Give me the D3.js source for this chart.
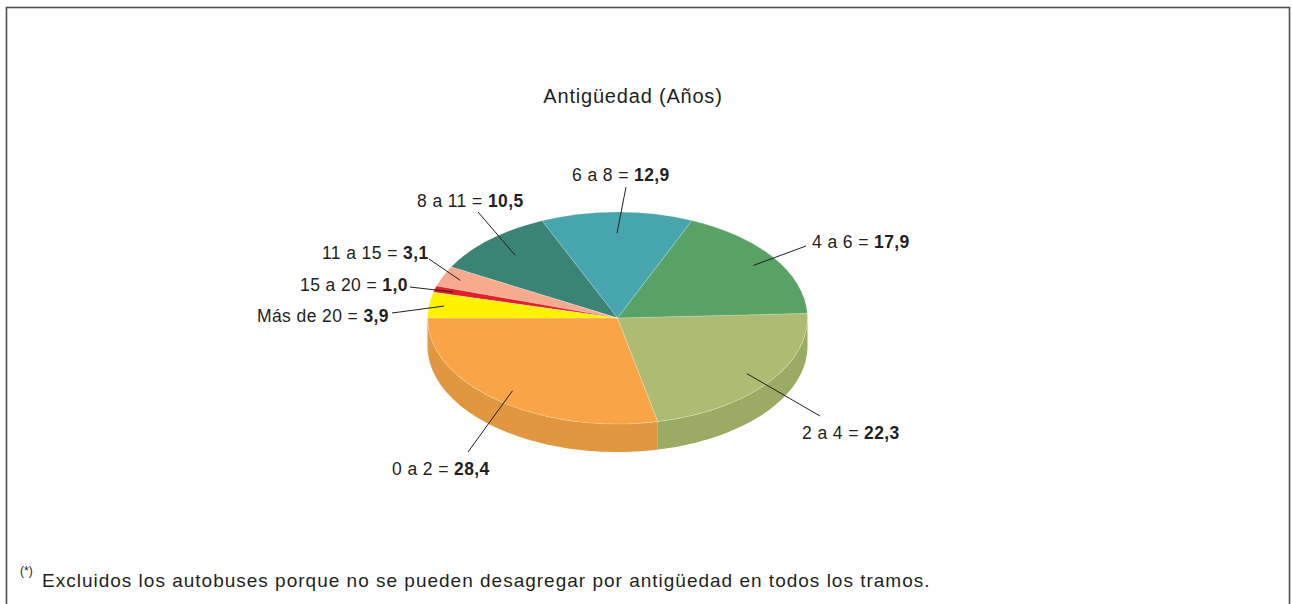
<!DOCTYPE html>
<html>
<head>
<meta charset="utf-8">
<script src="https://cdn.jsdelivr.net/npm/d3@7"></script>
<style>
  body { margin: 0; background: #fff; }
  svg text { font-family: "Liberation Sans", Arial, sans-serif; fill: #231f20; }
</style>
</head>
<body>
<div id="chart"></div>
<script>
// Data: share of vehicles by age bracket (years)
const categories = ["0 a 2", "2 a 4", "4 a 6", "6 a 8", "8 a 11", "11 a 15", "15 a 20", "Más de 20"];
const values = [28.4, 22.3, 17.9, 12.9, 10.5, 3.1, 1.0, 3.9];
const valueLabels = ["28,4", "22,3", "17,9", "12,9", "10,5", "3,1", "1,0", "3,9"];

const topColors = ["#f9a547", "#aebb72", "#58a265", "#46a5ad", "#3b8475", "#f8aa8e", "#e31f28", "#fff200"];
const sideColors = ["#e0973f", "#9bab63", "#4e9159", "#3e939a", "#347568", "#dd977e", "#c91b23", "#e3d700"];

// label layout: text start x, baseline y, leader outer end, leader inner radius fraction
const labelPos = [
  { x: 392, y: 475, lx: 468, ly: 452, f: 0.88 },
  { x: 802, y: 439, lx: 820, ly: 416, f: 0.86 },
  { x: 812, y: 248, lx: 806, ly: 246, f: 0.87 },
  { x: 572, y: 181, lx: 626, ly: 187, f: 0.8 },
  { x: 417, y: 207, lx: 478, ly: 212, f: 0.8 },
  { x: 322, y: 259, lx: 429, ly: 259, f: 0.9 },
  { x: 300, y: 291, lx: 410, ly: 287, f: 0.9 },
  { x: 257, y: 322, lx: 392, ly: 313, f: 0.92 }
];

const W = 1292, H = 604;
const cx = 617.5, cy = 318, rx = 190, ry = 106, depth = 28;

const svg = d3.select("#chart").append("svg")
    .attr("width", W)
    .attr("height", H);

// frame
svg.append("rect")
    .attr("x", 6.5).attr("y", 7.5)
    .attr("width", 1283).attr("height", 640)
    .attr("fill", "none")
    .attr("stroke", "#505050")
    .attr("stroke-width", 1.6);

svg.append("text")
    .attr("x", 633).attr("y", 103)
    .attr("text-anchor", "middle")
    .style("font-size", "20px")
    .style("letter-spacing", "0.8px")
    .text("Antigüedad (Años)");

const data = categories.map((c, i) => ({ cat: c, value: values[i], label: valueLabels[i], i }));

const pie = d3.pie()
    .sort(null)
    .value(d => d.value)
    .startAngle(-Math.PI / 2)
    .endAngle(-Math.PI / 2 - 2 * Math.PI);

const arcs = pie(data);

// sides (front half only)
const px = a => cx + rx * Math.sin(a);
const py = a => cy - ry * Math.cos(a);
const side = d3.area()
    .x(a => px(a))
    .y0(a => py(a))
    .y1(a => py(a) + depth);

const sideG = svg.append("g");
arcs.forEach(d => {
  const lo = Math.max(Math.min(d.startAngle, d.endAngle), -1.5 * Math.PI);
  const hi = Math.min(Math.max(d.startAngle, d.endAngle), -0.5 * Math.PI);
  if (hi <= lo) return;
  const pts = d3.range(0, 61).map(k => lo + (hi - lo) * k / 60);
  sideG.append("path")
      .attr("d", side(pts))
      .attr("fill", sideColors[d.data.i]);
});

// top face: circle pie squashed into an ellipse
const arc = d3.arc().innerRadius(0).outerRadius(rx);
const topG = svg.append("g")
    .attr("transform", `translate(${cx},${cy}) scale(1,${ry / rx})`);

topG.selectAll("path")
    .data(arcs)
  .enter().append("path")
    .attr("d", arc)
    .attr("fill", d => topColors[d.data.i])
    .attr("stroke", "rgba(255,255,255,0.35)")
    .attr("stroke-width", 0.6)
    .attr("vector-effect", "non-scaling-stroke");

// leader lines and labels
const labG = svg.append("g");
arcs.forEach(d => {
  const p = labelPos[d.data.i];
  const inner = d3.arc().innerRadius(rx * p.f).outerRadius(rx * p.f).centroid(d);
  labG.append("line")
      .attr("x1", p.lx).attr("y1", p.ly)
      .attr("x2", cx + inner[0]).attr("y2", cy + inner[1] * ry / rx)
      .attr("stroke", "#231f20")
      .attr("stroke-width", 1);
  const t = labG.append("text")
      .attr("x", p.x).attr("y", p.y)
      .style("font-size", "17.5px")
      .style("letter-spacing", "0.4px");
  t.append("tspan").text(d.data.cat + " = ");
  t.append("tspan").style("font-weight", "bold").text(d.data.label);
});

// footnote
svg.append("text")
    .attr("x", 20).attr("y", 575)
    .style("font-size", "12px")
    .text("(*)");
svg.append("text")
    .attr("x", 42).attr("y", 587)
    .style("font-size", "19px")
    .style("letter-spacing", "1px")
    .text("Excluidos los autobuses porque no se pueden desagregar por antigüedad en todos los tramos.");
</script>
</body>
</html>
